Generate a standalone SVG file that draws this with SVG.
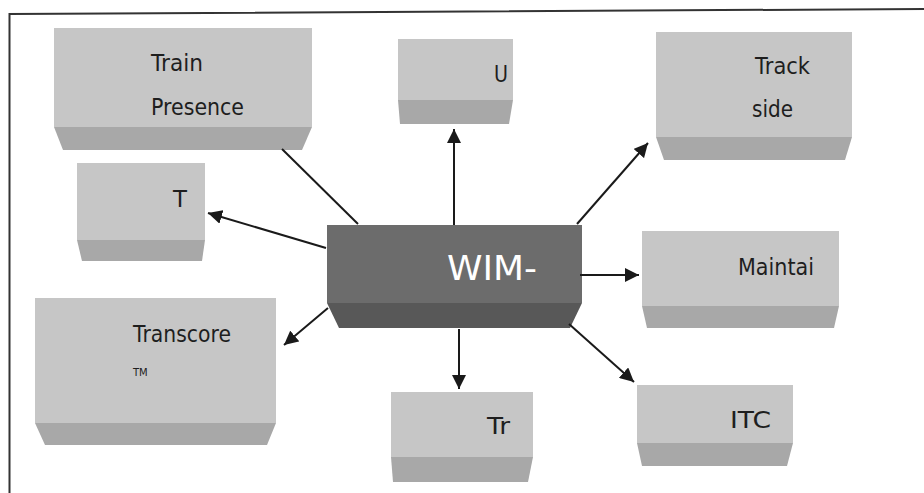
<svg xmlns="http://www.w3.org/2000/svg" width="924" height="493" viewBox="0 0 924 493">
<defs>
<style>
.face{fill:#c6c6c6}
.bev{fill:#a8a8a8}
.dface{fill:#6c6c6c}
.dbev{fill:#585858}
.lbl{font-family:"DejaVu Sans",Verdana,sans-serif;font-size:23px;fill:#1e1e1e}
.wl{font-family:"DejaVu Sans",Verdana,sans-serif;font-size:34px;fill:#ffffff}
.tm{font-family:"DejaVu Sans",Verdana,sans-serif;font-size:10px;fill:#1e1e1e}
.con{stroke:#1a1a1a;stroke-width:2;fill:none}
</style>
<marker id="ah" viewBox="0 0 10 10" refX="10" refY="5" markerWidth="7" markerHeight="7" markerUnits="strokeWidth" orient="auto">
<path d="M0,0 L10,5 L0,10 Z" fill="#1a1a1a"/>
</marker>
</defs>
<rect width="924" height="493" fill="#ffffff"/>
<path d="M9.5,493 L9.5,14 L924,9" stroke="#333" stroke-width="2" fill="none"/>

<g id="train-presence">
<rect class="face" x="54" y="28" width="258" height="99"/>
<polygon class="bev" points="54,127 312,127 302,150 63,150"/>
<text class="lbl" x="151" y="71" textLength="52" lengthAdjust="spacingAndGlyphs">Train</text>
<text class="lbl" x="151" y="115" textLength="93" lengthAdjust="spacingAndGlyphs">Presence</text>
</g>

<g id="u">
<rect class="face" x="398" y="39" width="115" height="61"/>
<polygon class="bev" points="398,100 513,100 509,124 400,124"/>
<text class="lbl" x="494" y="82" textLength="14" lengthAdjust="spacingAndGlyphs">U</text>
</g>

<g id="track-side">
<rect class="face" x="656" y="32" width="196" height="105"/>
<polygon class="bev" points="656,137 852,137 845,160 664,160"/>
<text class="lbl" x="755" y="74" textLength="55" lengthAdjust="spacingAndGlyphs">Track</text>
<text class="lbl" x="752" y="117" textLength="41" lengthAdjust="spacingAndGlyphs">side</text>
</g>

<g id="t">
<rect class="face" x="77" y="163" width="128" height="77"/>
<polygon class="bev" points="77,240 205,240 202,261 82,261"/>
<text class="lbl" x="173" y="207" textLength="14" lengthAdjust="spacingAndGlyphs">T</text>
</g>

<g id="wim">
<rect class="dface" x="327" y="225" width="255" height="78"/>
<polygon class="dbev" points="327,303 582,303 570,328 339,328"/>
<text class="wl" x="447" y="280" textLength="90" lengthAdjust="spacingAndGlyphs">WIM-</text>
</g>

<g id="maintai">
<rect class="face" x="642" y="231" width="197" height="75"/>
<polygon class="bev" points="642,306 839,306 834,328 647,328"/>
<text class="lbl" x="738" y="275" textLength="76" lengthAdjust="spacingAndGlyphs">Maintai</text>
</g>

<g id="transcore">
<rect class="face" x="35" y="298" width="241" height="125"/>
<polygon class="bev" points="35,423 276,423 267,445 45,445"/>
<text class="lbl" x="133" y="342" textLength="98" lengthAdjust="spacingAndGlyphs">Transcore</text>
<text class="tm" x="133" y="376">TM</text>
</g>

<g id="tr">
<rect class="face" x="391" y="392" width="142" height="65"/>
<polygon class="bev" points="391,457 533,457 528,482 393,482"/>
<text class="lbl" x="487" y="434" textLength="23" lengthAdjust="spacingAndGlyphs">Tr</text>
</g>

<g id="itc">
<rect class="face" x="637" y="385" width="156" height="58"/>
<polygon class="bev" points="637,443 793,443 787,466 642,466"/>
<text class="lbl" x="730" y="428" textLength="41" lengthAdjust="spacingAndGlyphs">ITC</text>
</g>

<g id="connectors">
<line class="con" x1="282" y1="149" x2="358" y2="224"/>
<line class="con" x1="454" y1="225" x2="454" y2="129" marker-end="url(#ah)"/>
<line class="con" x1="326" y1="248" x2="208" y2="213" marker-end="url(#ah)"/>
<line class="con" x1="577" y1="224" x2="648" y2="143" marker-end="url(#ah)"/>
<line class="con" x1="580" y1="275" x2="639" y2="275" marker-end="url(#ah)"/>
<line class="con" x1="569" y1="324" x2="634" y2="382" marker-end="url(#ah)"/>
<line class="con" x1="459" y1="329" x2="459" y2="389" marker-end="url(#ah)"/>
<line class="con" x1="328" y1="308" x2="284" y2="345" marker-end="url(#ah)"/>
</g>
</svg>
